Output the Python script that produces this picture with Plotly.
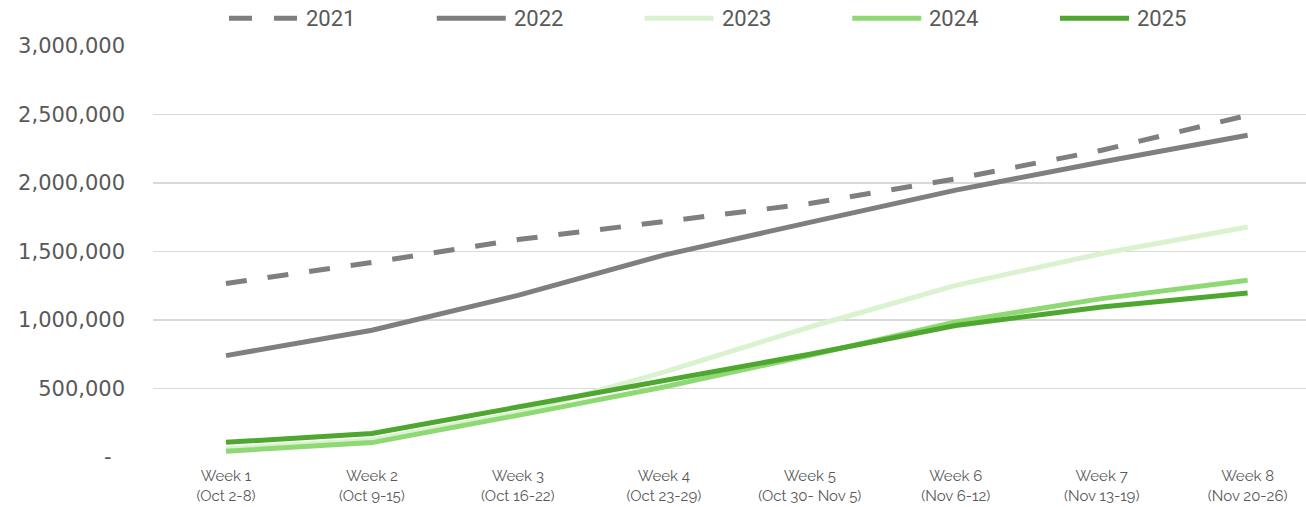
import plotly.graph_objects as go

weeks = ["Week 1<br>(Oct 2-8)", "Week 2<br>(Oct 9-15)", "Week 3<br>(Oct 16-22)",
         "Week 4<br>(Oct 23-29)", "Week 5<br>(Oct 30- Nov 5)", "Week 6<br>(Nov 6-12)",
         "Week 7<br>(Nov 13-19)", "Week 8<br>(Nov 20-26)"]

y2021 = [1266000, 1420000, 1587000, 1715000, 1850000, 2030000, 2239000, 2494000]
y2022 = [740000, 925000, 1180000, 1474000, 1713000, 1948000, 2153000, 2348000]
y2023 = [60000, 125000, 320000, 620000, 949000, 1253000, 1485000, 1679000]
y2024 = [42000, 105000, 304000, 511000, 742000, 985000, 1156000, 1290000]
y2025 = [107000, 171000, 365000, 560000, 750000, 960000, 1095000, 1197000]

series_names = ["2021", "2022", "2023", "2024", "2025"]
series_values = [y2021, y2022, y2023, y2024, y2025]
colors = ["#7F7F7F", "#7F7F7F", "#DAF2D0", "#8ED973", "#4EA72E"]
dashes = ["21px,21px", "solid", "solid", "solid", "solid"]

ytick_vals = [0, 500000, 1000000, 1500000, 2000000, 2500000, 3000000]
ytick_text = ["-\u00a0\u00a0", "500,000", "1,000,000", "1,500,000",
              "2,000,000", "2,500,000", "3,000,000"]

W, H = 1306, 507
ML, MT = 153, 45.7
PB = 456.7
PW = W - ML
PH = PB - MT

fig = go.Figure()
for name, vals, col, dsh in zip(series_names, series_values, colors, dashes):
    fig.add_trace(go.Scatter(
        x=weeks, y=vals, name=name, mode="lines",
        line=dict(color=col, width=5, dash=dsh),
        showlegend=False, hoverinfo="skip"))

# custom legend (layout decoration)
def px_x(p):
    return (p - ML) / PW

def px_y(p):
    return (PB - p) / PH

shapes = []
annotations = []
leg_y = 18
for i, (name, col, dsh) in enumerate(zip(series_names, colors, dashes)):
    x0 = 229 + 207.75 * i
    x1 = x0 + 69
    shapes.append(dict(type="line", xref="paper", yref="paper",
                       x0=px_x(x0), x1=px_x(x1), y0=px_y(leg_y), y1=px_y(leg_y),
                       line=dict(color=col, width=5,
                                 dash="23px,22px" if dsh != "solid" else "solid")))
    annotations.append(dict(xref="paper", yref="paper", x=px_x(x1 + 6), y=px_y(leg_y),
                            text=name, showarrow=False, xanchor="left", yanchor="middle",
                            font=dict(family="Liberation Sans Narrow, Arial Narrow, Roboto, sans-serif",
                                      size=22, color="#595959")))

fig.update_layout(
    width=W, height=H,
    margin=dict(l=ML, r=0, t=MT, b=H - PB),
    paper_bgcolor="white", plot_bgcolor="white",
    shapes=shapes, annotations=annotations,
    showlegend=False,
)
fig.update_xaxes(
    type="category", range=[-0.5, 7.40],
    showgrid=False, showline=False, zeroline=False, ticks="",
    tickfont=dict(family="Raleway, Lato, Open Sans, sans-serif", size=15, color="#595959"),
    ticklabelstandoff=8,
)
fig.update_yaxes(
    range=[0, 3000000], tickvals=ytick_vals, ticktext=ytick_text,
    showgrid=True, gridcolor="#D9D9D9", gridwidth=1.5,
    zeroline=False, showline=False, ticks="",
    tickfont=dict(family="DejaVu Sans, sans-serif", size=21, color="#595959"),
    ticklabelstandoff=27,
)

fig.write_html("out.html", config={"displayModeBar": False, "staticPlot": True},
               post_script="document.body.style.margin='0';")
